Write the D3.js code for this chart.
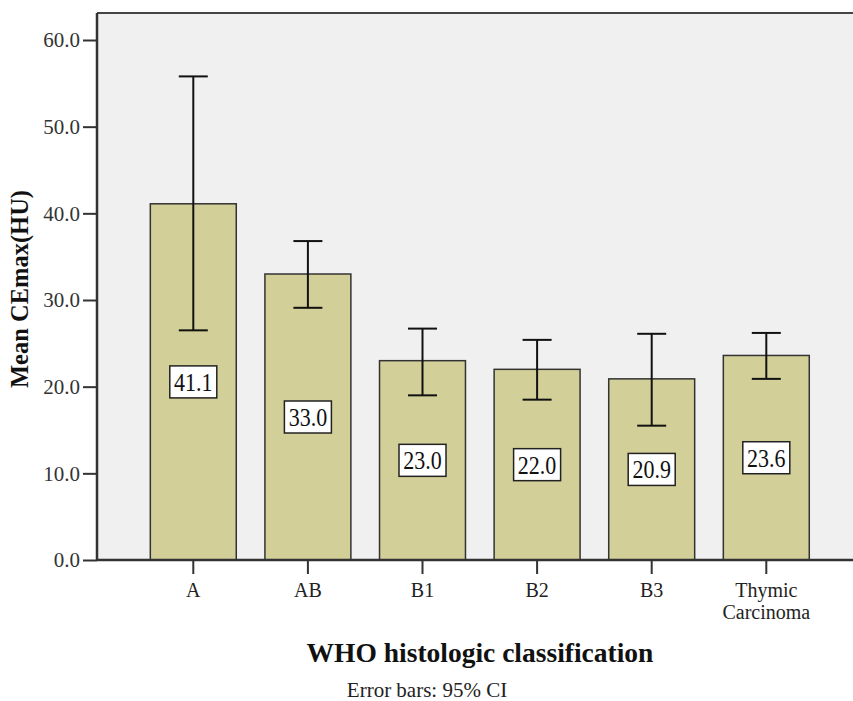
<!DOCTYPE html>
<html>
<head>
<meta charset="utf-8">
<script src="https://cdn.jsdelivr.net/npm/d3@7"></script>
<style>
  body { margin: 0; background: #fff; }
  svg text { font-family: "Liberation Serif", "Times New Roman", serif; }
</style>
</head>
<body>
<svg width="853" height="701"></svg>
<script>
const categories = ["A", "AB", "B1", "B2", "B3", "Thymic Carcinoma"];
const means = [41.1, 33.0, 23.0, 22.0, 20.9, 23.6];
const ciLow = [26.5, 29.1, 19.0, 18.5, 15.5, 20.9];
const ciHigh = [55.8, 36.8, 26.7, 25.4, 26.1, 26.2];
const yTicks = [0, 10, 20, 30, 40, 50, 60];

const data = categories.map((c, i) => ({ cat: c, mean: means[i], lo: ciLow[i], hi: ciHigh[i] }));

const svg = d3.select("svg");
const plotLeft = 97, plotTop = 13, plotBottom = 560, plotRight = 853;

const x = d3.scaleBand()
    .domain(categories)
    .range([136, 823.6])
    .paddingInner(0.25)
    .paddingOuter(0.125);

const y = d3.scaleLinear()
    .domain([0, 60])
    .range([plotBottom, 40]);

// plot background
svg.append("rect")
    .attr("x", plotLeft).attr("y", plotTop)
    .attr("width", plotRight - plotLeft).attr("height", plotBottom - plotTop)
    .attr("fill", "#f0f0f0");

// top border
svg.append("line")
    .attr("x1", plotLeft).attr("x2", plotRight)
    .attr("y1", plotTop).attr("y2", plotTop)
    .attr("stroke", "#444").attr("stroke-width", 2);

// bars
svg.append("g")
    .selectAll("rect")
    .data(data)
    .enter()
    .append("rect")
    .attr("x", d => x(d.cat))
    .attr("y", d => y(d.mean))
    .attr("width", x.bandwidth())
    .attr("height", d => y(0) - y(d.mean))
    .attr("fill", "#d3cf98")
    .attr("stroke", "#333")
    .attr("stroke-width", 1.5);

// error bars
const cap = 14.5;
const eb = svg.append("g").attr("stroke", "#111").attr("stroke-width", 2);
data.forEach(d => {
    const cx = x(d.cat) + x.bandwidth() / 2;
    eb.append("line").attr("x1", cx).attr("x2", cx).attr("y1", y(d.hi)).attr("y2", y(d.lo));
    eb.append("line").attr("x1", cx - cap).attr("x2", cx + cap).attr("y1", y(d.hi)).attr("y2", y(d.hi));
    eb.append("line").attr("x1", cx - cap).attr("x2", cx + cap).attr("y1", y(d.lo)).attr("y2", y(d.lo));
});

// value labels in boxes (text slightly stretched vertically like the original)
const lab = svg.append("g");
data.forEach(d => {
    const cx = x(d.cat) + x.bandwidth() / 2;
    const cy = y(d.mean / 2);
    lab.append("rect")
        .attr("x", cx - 23.5).attr("y", cy - 16)
        .attr("width", 47).attr("height", 32)
        .attr("fill", "#fff").attr("stroke", "#222").attr("stroke-width", 1.5);
    lab.append("text")
        .attr("transform", `translate(${cx},${cy + 9}) scale(1,1.18)`)
        .attr("text-anchor", "middle")
        .attr("font-size", 22)
        .attr("fill", "#111")
        .text(d3.format(".1f")(d.mean));
});

// y axis
const yAxis = svg.append("g")
    .attr("transform", `translate(${plotLeft},0)`)
    .call(d3.axisLeft(y).tickValues(yTicks).tickFormat(d3.format(".1f")).tickSize(14).tickSizeOuter(0));
yAxis.select(".domain").attr("stroke", "#333").attr("stroke-width", 2.5)
    .attr("d", `M0,${plotTop}V${plotBottom}`);
yAxis.selectAll(".tick line").attr("stroke", "#333").attr("stroke-width", 2);
yAxis.selectAll(".tick text")
    .attr("x", -17)
    .attr("dy", "0.33em")
    .attr("font-size", 21)
    .attr("fill", "#333");

// x axis
const xAxis = svg.append("g")
    .attr("transform", `translate(0,${plotBottom})`)
    .call(d3.axisBottom(x).tickSize(14).tickSizeOuter(0).tickFormat(""));
xAxis.select(".domain").attr("stroke", "#333").attr("stroke-width", 2.5)
    .attr("d", `M${plotLeft},0H${plotRight}`);
xAxis.selectAll(".tick line").attr("stroke", "#333").attr("stroke-width", 2);
xAxis.selectAll(".tick").each(function (d) {
    const t = d3.select(this).append("text")
        .attr("text-anchor", "middle")
        .attr("font-size", 20)
        .attr("fill", "#222")
        .attr("y", 37);
    const words = d.split(" ");
    words.forEach((w, i) => {
        t.append("tspan").attr("x", 0).attr("dy", i === 0 ? 0 : 22).text(w);
    });
});

// axis titles
svg.append("text")
    .attr("transform", "translate(28,289) rotate(-90)")
    .attr("text-anchor", "middle")
    .attr("font-size", 24.5)
    .attr("font-weight", "bold")
    .attr("fill", "#111")
    .text("Mean CEmax(HU)");

svg.append("text")
    .attr("x", 480).attr("y", 662)
    .attr("text-anchor", "middle")
    .attr("font-size", 27.5)
    .attr("font-weight", "bold")
    .attr("fill", "#111")
    .text("WHO histologic classification");

svg.append("text")
    .attr("x", 427).attr("y", 697)
    .attr("text-anchor", "middle")
    .attr("font-size", 21)
    .attr("fill", "#222")
    .text("Error bars: 95% CI");
</script>
</body>
</html>
